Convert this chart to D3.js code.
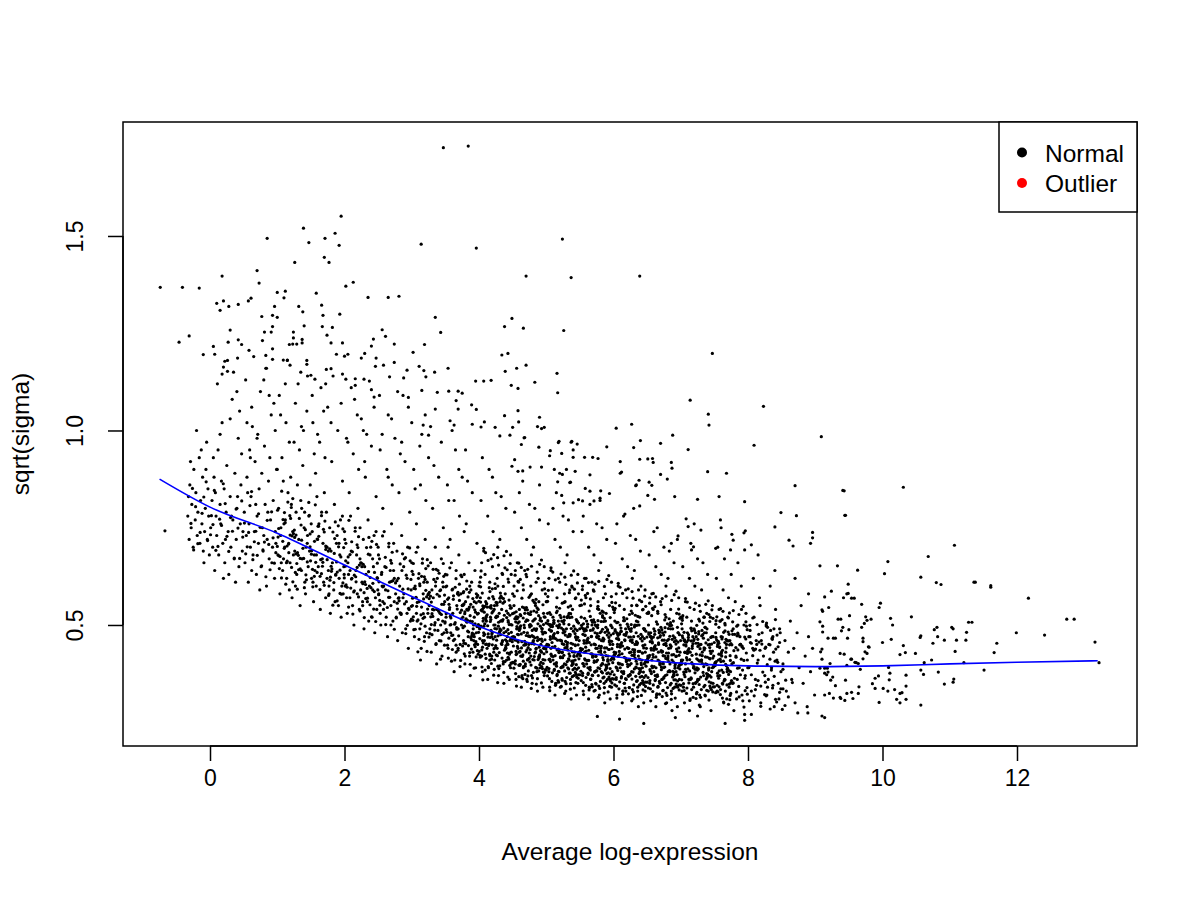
<!DOCTYPE html>
<html><head><meta charset="utf-8">
<script src="https://cdn.jsdelivr.net/npm/d3@7"></script>
<style>body{margin:0;background:#fff}svg text{font-family:"Liberation Sans",Arial,Helvetica,sans-serif;fill:#000}</style>
</head><body><svg id="c" width="1200" height="900"></svg>
<script>
const xTicks=[0,2,4,6,8,10,12];
const yTicks=[0.5,1.0,1.5];
const xTitle="Average log-expression", yTitle="sqrt(sigma)";
const legendLabels=["Normal","Outlier"], legendColors=["#000000","#FF0000"];
const trendX=[-0.75,0,1,2,3,4,4.5,5,6,7,8,9,10,11,12,13.2];
const trendY=[0.875,0.803,0.736,0.654,0.573,0.496,0.466,0.444,0.419,0.402,0.395,0.393,0.395,0.400,0.404,0.408];
const outliers=[];
const sparseUpper=[[3.47,1.727],[3.84,1.731],[1.95,1.551],[1.39,1.52],[0.85,1.494],[1.71,1.494],[1.86,1.507],[1.47,1.483],[1.92,1.476],[3.14,1.479],[3.96,1.469],[1.70,1.445],[1.77,1.432],[1.26,1.432],[0.70,1.411],[0.18,1.397],[0.73,1.379],[-0.74,1.368],[-0.41,1.368],[-0.16,1.366],[2.02,1.371],[2.13,1.381],[1.00,1.355],[1.12,1.358],[1.58,1.353],[1.10,1.341],[0.61,1.34],[0.57,1.333],[0.10,1.327],[0.20,1.333],[0.15,1.309],[0.28,1.319],[0.42,1.324],[2.35,1.342],[2.65,1.342],[2.81,1.345],[0.96,1.319],[1.32,1.319],[1.38,1.305],[1.66,1.322],[0.77,1.293],[0.93,1.296],[1.00,1.291],[1.68,1.296],[1.93,1.299],[3.35,1.291],[3.43,1.252],[4.49,1.288],[4.38,1.267],[-0.46,1.227],[-0.31,1.243],[1.40,1.269],[1.67,1.267],[1.82,1.265],[0.93,1.267],[0.30,1.258],[0.81,1.253],[0.91,1.253],[1.24,1.253],[1.74,1.245],[2.56,1.259],[2.61,1.242],[-0.10,1.195],[0.07,1.196],[0.05,1.216],[0.27,1.227],[0.42,1.233],[0.47,1.221],[0.78,1.231],[0.58,1.206],[0.93,1.21],[1.18,1.221],[1.23,1.222],[1.29,1.222],[1.37,1.225],[1.37,1.234],[1.24,1.238],[1.80,1.225],[1.97,1.225],[2.43,1.235],[2.40,1.217],[2.74,1.222],[3.19,1.221],[3.02,1.201],[1.88,1.196],[2.00,1.191],[2.05,1.196],[2.30,1.198],[2.25,1.186],[0.83,1.193],[0.93,1.183],[0.41,1.186],[0.22,1.178],[1.09,1.181],[1.15,1.181],[1.19,1.168],[1.44,1.18],[1.44,1.17],[2.47,1.186],[2.46,1.165],[2.58,1.168],[2.74,1.175],[2.93,1.155],[3.11,1.165],[3.18,1.154],[3.21,1.138],[3.34,1.15],[3.54,1.16],[4.34,1.194],[4.43,1.198],[4.56,1.16],[4.39,1.152],[3.95,1.127],[4.07,1.127],[4.18,1.129],[4.48,1.116],[4.58,1.108],[0.20,1.163],[0.26,1.152],[0.18,1.145],[0.84,1.16],[1.35,1.15],[1.50,1.142],[1.56,1.132],[1.73,1.157],[1.80,1.159],[1.97,1.145],[2.02,1.132],[2.16,1.133],[2.29,1.132],[2.37,1.127],[2.16,1.116],[2.40,1.105],[2.44,1.086],[2.67,1.138],[2.88,1.135],[2.79,1.10],[2.87,1.09],[2.95,1.085],[3.15,1.103],[3.38,1.098],[3.55,1.101],[3.69,1.101],[3.75,1.096],[3.66,1.077],[3.89,1.066],[3.96,1.054],[3.35,1.055],[3.69,1.055],[3.57,1.025],[3.63,1.014],[3.90,1.016],[4.03,1.009],[4.08,1.022],[4.24,1.008],[4.50,1.008],[4.38,1.038],[4.58,1.051],[4.59,1.022],[3.17,1.014],[3.25,0.988],[-0.67,0.742]];
const sparseMid=[[5.24,1.492],[4.70,1.397],[5.37,1.393],[6.39,1.397],[4.66,1.263],[5.26,1.257],[7.47,1.198],[4.70,1.168],[5.16,1.147],[4.83,1.124],[5.17,1.097],[7.14,1.078],[8.23,1.062],[4.90,1.034],[4.87,1.010],[4.93,1.005],[4.97,1.008],[6.04,1.006],[6.27,1.016],[7.41,1.042],[7.42,1.014],[6.88,0.988],[9.09,0.984],[4.31,0.986],[4.46,0.988],[4.68,0.982],[5.19,0.972],[5.38,0.972],[6.40,0.974],[6.70,0.967],[7.11,0.951],[8.09,0.962],[7.40,0.894],[7.68,0.890],[8.70,0.858],[6.30,0.956],[5.90,0.958],[6.10,0.920],[6.10,0.890],[6.39,0.926],[6.51,0.927],[6.58,0.928],[6.59,0.918],[6.86,0.918],[6.87,0.903],[6.70,0.887],[6.80,0.875],[6.38,0.872],[6.33,0.858],[6.57,0.859],[5.65,0.886],[5.18,0.969],[5.37,0.970],[5.46,0.965],[5.40,0.950],[5.23,0.941],[5.40,0.931],[5.57,0.931],[5.69,0.931],[5.77,0.928],[5.06,0.948],[5.05,0.935],[4.89,0.957],[5.17,0.868],[5.36,0.867],[5.43,0.895],[5.24,0.887],[5.58,0.851],[4.93,0.906],[4.76,0.906],[5.12,0.90],[4.65,0.896],[4.58,0.895],[4.53,0.925],[4.49,0.908],[4.67,0.981],[4.63,0.964],[5.20,0.890],[5.35,0.866],[5.65,0.844],[5.81,0.845],[5.94,0.838],[5.80,0.826],[5.71,0.819],[5.54,0.819],[5.23,0.833],[5.26,0.814],[5.40,0.814],[5.48,0.822],[6.12,0.893],[6.34,0.860],[6.53,0.867],[6.17,0.785],[6.39,0.806],[6.51,0.833],[6.61,0.823],[6.91,0.830],[7.25,0.823],[7.57,0.830],[7.95,0.817],[8.49,0.789],[8.72,0.781],[9.45,0.782],[8.40,0.752],[7.96,0.742],[7.94,0.737],[7.76,0.733],[7.59,0.770],[7.60,0.750],[8.96,0.738],[8.96,0.724],[8.93,0.710],[8.61,0.718],[8.67,0.703],[8.05,0.706],[7.95,0.693],[7.78,0.718],[7.08,0.773],[7.11,0.753],[7.30,0.744],[6.96,0.729],[6.86,0.710],[7.19,0.701],[7.16,0.693],[7.52,0.697],[7.74,0.693],[9.43,0.845]];
const rightTail=[[9.41,0.846],[10.31,0.854],[9.44,0.782],[11.07,0.705],[10.68,0.676],[10.08,0.663],[10.03,0.632],[9.63,0.641],[9.33,0.652],[9.07,0.652],[10.57,0.623],[10.80,0.609],[10.87,0.604],[11.36,0.61],[11.38,0.61],[11.61,0.601],[11.61,0.597],[12.17,0.569],[9.49,0.605],[9.24,0.587],[9.14,0.572],[9.42,0.57],[9.47,0.58],[9.49,0.581],[9.54,0.569],[9.58,0.569],[9.69,0.553],[9.97,0.556],[9.95,0.545],[9.20,0.545],[9.10,0.539],[9.11,0.535],[10.43,0.521],[10.12,0.517],[10.15,0.50],[9.75,0.521],[9.83,0.515],[9.77,0.512],[9.34,0.515],[9.38,0.515],[9.51,0.524],[9.73,0.504],[9.69,0.494],[9.39,0.485],[9.41,0.494],[9.50,0.488],[9.07,0.508],[9.11,0.497],[9.11,0.482],[9.27,0.466],[9.19,0.466],[9.30,0.466],[9.48,0.466],[9.71,0.466],[9.71,0.457],[9.80,0.443],[9.74,0.431],[9.77,0.427],[10.00,0.455],[10.13,0.463],[10.31,0.447],[10.56,0.468],[10.57,0.472],[10.82,0.47],[10.77,0.488],[10.81,0.494],[10.75,0.453],[10.92,0.461],[11.03,0.494],[11.05,0.49],[11.10,0.461],[11.24,0.461],[11.25,0.481],[11.28,0.507],[11.33,0.507],[11.70,0.453],[11.99,0.48],[11.66,0.429],[12.41,0.474],[12.74,0.515],[12.85,0.515],[13.16,0.456],[13.22,0.403],[11.08,0.432],[11.21,0.403],[11.51,0.384],[10.83,0.379],[11.06,0.361],[11.05,0.353],[10.92,0.348],[10.57,0.294],[10.73,0.41],[10.62,0.403],[10.57,0.384],[10.61,0.373],[10.49,0.427],[10.34,0.429],[10.26,0.424],[10.35,0.371],[10.35,0.343],[10.35,0.309],[10.26,0.324],[10.29,0.326],[10.21,0.309],[10.26,0.30],[10.18,0.334],[10.08,0.33],[10.01,0.337],[10.10,0.359],[10.11,0.376],[10.09,0.391],[9.94,0.369],[9.89,0.363],[9.85,0.349],[9.89,0.337],[9.95,0.301],[9.67,0.386],[9.64,0.401],[9.59,0.404],[9.53,0.412],[9.79,0.444],[9.65,0.341],[9.64,0.324],[9.54,0.327],[9.47,0.324],[9.56,0.311],[9.38,0.311],[9.44,0.306],[9.37,0.314],[9.27,0.312],[9.14,0.32],[9.21,0.324],[9.30,0.344],[9.45,0.358],[9.23,0.358],[9.26,0.366],[9.14,0.376],[9.17,0.372],[9.19,0.379],[9.07,0.389],[9.14,0.389],[9.18,0.389],[9.22,0.401],[9.37,0.427],[9.43,0.425],[9.54,0.412],[9.61,0.403],[9.47,0.396],[9.10,0.266],[9.14,0.262],[9.71,0.413],[9.10,0.438],[9.08,0.431],[9.10,0.412],[8.51,0.283],[8.74,0.274],[8.89,0.274],[7.66,0.247],[6.45,0.247],[6.09,0.258],[5.76,0.265],[6.92,0.262],[7.25,0.266],[8.05,0.27],[7.95,0.255]];
const midUpper=[[0.55,1.02],[0.62,1.06],[0.7,0.98],[0.88,1.09],[0.97,1.00],[1.05,1.04],[1.18,0.97],[1.27,1.07],[1.36,1.01],[1.52,1.09],[1.6,0.99],[1.69,1.05],[1.8,1.02],[1.95,1.07],[2.05,0.97],[2.19,1.04],[2.28,1.00],[2.44,1.06],[2.56,0.99],[2.7,1.03],[2.85,0.97],[3.0,1.02],[3.12,0.96],[3.28,1.01],[3.44,0.97],[0.3,1.03],[0.15,0.99],[0.4,1.10],[0.8,1.13],[1.12,1.12],[1.45,1.14],[1.72,1.12],[2.1,1.11],[2.52,1.09],[2.95,1.06],[3.2,1.04],[3.6,1.00],[3.8,0.95],[4.05,0.93],[0.6,0.93],[1.0,0.90],[1.55,0.94],[2.3,0.92],[2.65,0.88],[3.05,0.85],[3.55,0.82],[3.7,0.90],[4.2,0.88],[4.6,0.84],[4.9,0.86],[5.1,0.80],[5.3,0.90],[5.55,0.78],[5.8,0.82],[6.05,0.76],[6.3,0.80],[6.6,0.74],[6.95,0.72],[7.2,0.76],[7.55,0.70],[7.85,0.66],[8.15,0.68],[8.4,0.64],[8.7,0.62],[8.9,0.58]];
const cloudLeft=[[-0.33,0.78],[-0.31,0.72],[-0.3,0.86],[-0.28,0.75],[-0.27,0.81],[-0.25,0.70],[-0.24,0.90],[-0.22,0.77],[-0.21,0.84],[-0.19,0.73],[-0.18,0.79],[-0.16,0.93],[-0.15,0.71],[-0.14,0.82],[-0.12,0.76],[-0.11,0.88],[-0.1,0.69],[-0.08,0.74],[-0.07,0.80],[-0.05,0.97],[-0.04,0.72],[-0.03,0.85],[-0.02,0.78],[-0.01,0.68],[-0.29,0.92],[-0.2,1.00],[-0.13,0.95],[-0.06,0.90],[-0.32,0.83],[-0.09,0.66],
[0.01,0.75],[0.03,0.82],[0.04,0.70],[0.06,0.88],[0.07,0.64],[0.09,0.78],[0.1,0.73],[0.12,0.95],[0.13,0.68],[0.15,0.81],[0.16,0.76],[0.18,1.02],[0.19,0.71],[0.21,0.85],[0.22,0.66],[0.24,0.79],[0.25,0.91],[0.27,0.74],[0.28,0.63],[0.3,0.83],[0.31,0.70],[0.33,1.08],[0.34,0.77],[0.36,0.67],[0.37,0.89],[0.39,0.72],[0.4,0.80],[0.42,0.98],[0.43,0.65],[0.45,0.76],[0.46,0.86],[0.48,0.69],[0.49,0.74],[0.05,0.93],[0.2,0.62],[0.35,1.15],[0.44,1.05],[0.11,1.12],[0.26,1.18],[0.38,0.61],[0.08,0.84],[0.23,0.72],[0.41,0.83],[0.17,0.87],[0.32,0.78],[0.47,0.94],
[0.51,0.79],[0.52,0.66],[0.54,0.73],[0.55,0.88],[0.57,0.61],[0.58,0.76],[0.6,0.70],[0.61,0.83],[0.63,1.01],[0.64,0.68],[0.66,0.74],[0.67,0.92],[0.69,0.63],[0.7,0.78],[0.72,0.71],[0.73,0.85],[0.75,1.10],[0.76,0.65],[0.78,0.75],[0.79,0.69],[0.81,0.96],[0.82,0.81],[0.84,0.60],[0.85,0.72],[0.87,0.87],[0.88,0.67],[0.9,0.77],[0.91,1.04],[0.93,0.70],[0.94,0.82],[0.96,0.62],[0.97,0.74],[0.99,0.90],[0.53,1.13],[0.59,0.95],[0.65,1.19],[0.71,0.99],[0.77,0.89],[0.83,1.16],[0.89,0.93],[0.95,1.07],[0.56,0.84],[0.62,0.64],[0.68,0.81],[0.74,0.59],[0.8,0.73],[0.86,0.79],[0.92,0.66],[0.98,0.71]];
const cloudB=[[1.01,0.68],[1.02,0.80],[1.04,0.58],[1.05,0.73],[1.07,0.93],[1.08,0.64],[1.1,0.76],[1.11,0.70],[1.13,1.02],[1.14,0.62],[1.16,0.84],[1.17,0.71],[1.19,0.66],[1.2,0.88],[1.22,0.57],[1.23,0.74],[1.25,0.97],[1.26,0.69],[1.28,0.79],[1.29,0.63],[1.31,1.12],[1.32,0.72],[1.34,0.55],[1.35,0.82],[1.37,0.67],[1.38,0.91],[1.4,0.75],[1.41,0.61],[1.43,0.70],[1.44,1.05],[1.46,0.65],[1.47,0.78],[1.49,0.86],[1.03,1.09],[1.09,0.87],[1.15,1.18],[1.21,0.81],[1.27,0.60],[1.33,0.95],[1.39,1.00],[1.45,0.73],[1.06,0.66],[1.12,0.77],[1.18,0.59],[1.24,0.68],[1.3,0.86],[1.36,0.64],[1.42,0.58],[1.48,0.69],
[1.51,0.62],[1.52,0.74],[1.54,0.56],[1.55,0.68],[1.57,0.89],[1.58,0.60],[1.6,0.72],[1.61,0.65],[1.63,0.97],[1.64,0.54],[1.66,0.79],[1.67,0.67],[1.69,0.61],[1.7,0.84],[1.72,0.57],[1.73,0.70],[1.75,1.06],[1.76,0.64],[1.78,0.75],[1.79,0.53],[1.81,0.92],[1.82,0.66],[1.84,0.59],[1.85,0.81],[1.87,0.63],[1.88,0.71],[1.9,1.00],[1.91,0.55],[1.93,0.68],[1.94,0.77],[1.96,0.60],[1.97,0.87],[1.99,0.65],[1.53,1.02],[1.59,0.83],[1.65,1.11],[1.71,0.93],[1.77,0.58],[1.83,1.14],[1.89,0.73],[1.95,0.52],[1.56,0.64],[1.62,0.76],[1.68,0.71],[1.74,0.62],[1.8,0.69],[1.86,0.56],[1.92,0.62],[1.98,0.58],
[2.01,0.60],[2.02,0.71],[2.04,0.53],[2.05,0.66],[2.07,0.84],[2.08,0.57],[2.1,0.69],[2.11,0.62],[2.13,0.94],[2.14,0.50],[2.16,0.75],[2.17,0.64],[2.19,0.58],[2.2,0.80],[2.22,0.54],[2.23,0.67],[2.25,1.03],[2.26,0.61],[2.28,0.72],[2.29,0.49],[2.31,0.88],[2.32,0.63],[2.34,0.56],[2.35,0.77],[2.37,0.60],[2.38,0.68],[2.4,0.96],[2.41,0.52],[2.43,0.65],[2.44,0.73],[2.46,0.57],[2.47,0.83],[2.49,0.62],[2.03,0.98],[2.09,0.78],[2.15,1.08],[2.21,0.90],[2.27,0.55],[2.33,0.99],[2.39,0.70],[2.45,0.48],[2.06,0.63],[2.12,0.55],[2.18,0.68],[2.24,0.59],[2.3,0.65],[2.36,0.51],[2.42,0.59],[2.48,0.54],[2.0,0.74],
[2.51,0.58],[2.52,0.67],[2.54,0.50],[2.55,0.63],[2.57,0.80],[2.58,0.54],[2.6,0.65],[2.61,0.59],[2.63,0.90],[2.64,0.47],[2.66,0.71],[2.67,0.61],[2.69,0.55],[2.7,0.76],[2.72,0.51],[2.73,0.64],[2.75,0.98],[2.76,0.58],[2.78,0.69],[2.79,0.46],[2.81,0.84],[2.82,0.60],[2.84,0.53],[2.85,0.73],[2.87,0.57],[2.88,0.65],[2.9,0.92],[2.91,0.49],[2.93,0.62],[2.94,0.70],[2.96,0.54],[2.97,0.79],[2.99,0.59],[2.53,0.95],[2.59,0.74],[2.65,1.04],[2.71,0.86],[2.77,0.52],[2.83,0.94],[2.89,0.67],[2.95,0.44],[2.56,0.60],[2.62,0.52],[2.68,0.64],[2.74,0.56],[2.8,0.62],[2.86,0.48],[2.92,0.56],[2.98,0.51],[2.5,0.70],[2.57,0.56],[2.69,0.50],[2.81,0.57],[2.93,0.53]];
const cloudC=[[3.01,0.55],[3.02,0.63],[3.04,0.47],[3.05,0.60],[3.07,0.76],[3.08,0.51],[3.1,0.62],[3.11,0.56],[3.13,0.86],[3.14,0.44],[3.16,0.67],[3.17,0.58],[3.19,0.52],[3.2,0.72],[3.22,0.48],[3.23,0.61],[3.25,0.93],[3.26,0.55],[3.28,0.66],[3.29,0.43],[3.31,0.80],[3.32,0.57],[3.34,0.50],[3.35,0.70],[3.37,0.54],[3.38,0.62],[3.4,0.88],[3.41,0.46],[3.43,0.59],[3.44,0.67],[3.46,0.51],[3.47,0.75],[3.49,0.56],[3.03,0.90],[3.09,0.70],[3.15,0.99],[3.21,0.82],[3.27,0.49],[3.33,0.91],[3.39,0.64],[3.45,0.42],[3.06,0.57],[3.12,0.49],[3.18,0.61],[3.24,0.53],[3.3,0.59],[3.36,0.45],[3.42,0.53],[3.48,0.48],[3.0,0.66],[3.07,0.53],[3.19,0.47],[3.31,0.54],[3.43,0.50],[3.13,0.41],[3.37,0.40],[3.25,0.58],[3.46,0.61],
[3.51,0.52],[3.52,0.60],[3.54,0.44],[3.55,0.57],[3.57,0.72],[3.58,0.48],[3.6,0.59],[3.61,0.53],[3.63,0.82],[3.64,0.41],[3.66,0.64],[3.67,0.55],[3.69,0.49],[3.7,0.68],[3.72,0.45],[3.73,0.58],[3.75,0.88],[3.76,0.52],[3.78,0.63],[3.79,0.40],[3.81,0.76],[3.82,0.54],[3.84,0.47],[3.85,0.66],[3.87,0.51],[3.88,0.59],[3.9,0.84],[3.91,0.43],[3.93,0.56],[3.94,0.64],[3.96,0.48],[3.97,0.71],[3.99,0.53],[3.53,0.86],[3.59,0.66],[3.65,0.95],[3.71,0.78],[3.77,0.46],[3.83,0.87],[3.89,0.61],[3.95,0.39],[3.56,0.54],[3.62,0.46],[3.68,0.58],[3.74,0.50],[3.8,0.56],[3.86,0.42],[3.92,0.50],[3.98,0.45],[3.5,0.63],[3.57,0.50],[3.69,0.44],[3.81,0.51],[3.93,0.47],[3.63,0.38],[3.87,0.37],[3.75,0.55],[3.96,0.58],[3.54,0.70],[3.78,0.74],[3.66,0.43],
[4.01,0.49],[4.02,0.57],[4.04,0.42],[4.05,0.54],[4.07,0.69],[4.08,0.46],[4.1,0.56],[4.11,0.51],[4.13,0.78],[4.14,0.39],[4.16,0.61],[4.17,0.52],[4.19,0.47],[4.2,0.65],[4.22,0.43],[4.23,0.55],[4.25,0.84],[4.26,0.49],[4.28,0.60],[4.29,0.37],[4.31,0.72],[4.32,0.51],[4.34,0.45],[4.35,0.63],[4.37,0.48],[4.38,0.56],[4.4,0.80],[4.41,0.41],[4.43,0.53],[4.44,0.61],[4.46,0.46],[4.47,0.68],[4.49,0.50],[4.03,0.82],[4.09,0.63],[4.15,0.90],[4.21,0.74],[4.27,0.44],[4.33,0.83],[4.39,0.58],[4.45,0.36],[4.06,0.51],[4.12,0.44],[4.18,0.55],[4.24,0.47],[4.3,0.53],[4.36,0.40],[4.42,0.47],[4.48,0.43],[4.0,0.60],[4.07,0.48],[4.19,0.42],[4.31,0.49],[4.43,0.45],[4.13,0.36],[4.37,0.35],[4.25,0.52],[4.46,0.55],[4.04,0.66],[4.28,0.70],[4.16,0.41],[4.22,0.50],[4.34,0.57],[4.4,0.44],[4.1,0.45],[4.47,0.39],[4.27,0.62],[4.05,0.38],[4.35,0.46],[4.18,0.67],
[4.51,0.47],[4.52,0.55],[4.54,0.40],[4.55,0.52],[4.57,0.66],[4.58,0.44],[4.6,0.54],[4.61,0.49],[4.63,0.75],[4.64,0.37],[4.66,0.59],[4.67,0.50],[4.69,0.45],[4.7,0.63],[4.72,0.41],[4.73,0.53],[4.75,0.81],[4.76,0.47],[4.78,0.58],[4.79,0.35],[4.81,0.70],[4.82,0.49],[4.84,0.43],[4.85,0.61],[4.87,0.46],[4.88,0.54],[4.9,0.77],[4.91,0.39],[4.93,0.51],[4.94,0.59],[4.96,0.44],[4.97,0.65],[4.99,0.48],[4.53,0.79],[4.59,0.61],[4.65,0.87],[4.71,0.72],[4.77,0.42],[4.83,0.80],[4.89,0.56],[4.95,0.34],[4.56,0.49],[4.62,0.42],[4.68,0.53],[4.74,0.45],[4.8,0.51],[4.86,0.38],[4.92,0.45],[4.98,0.41],[4.5,0.58],[4.57,0.46],[4.69,0.40],[4.81,0.47],[4.93,0.43],[4.63,0.34],[4.87,0.33],[4.75,0.50],[4.96,0.53],[4.54,0.64],[4.78,0.68],[4.66,0.39],[4.72,0.48],[4.84,0.55],[4.9,0.42],[4.6,0.43],[4.97,0.37],[4.77,0.60],[4.55,0.36],[4.85,0.44],[4.68,0.64],[4.58,0.52],[4.82,0.41],[4.94,0.49],[4.71,0.36],[4.88,0.62]];
const cloudD=[[5.01,0.45],[5.02,0.53],[5.04,0.38],[5.05,0.50],[5.07,0.64],[5.08,0.42],[5.1,0.52],[5.11,0.47],[5.13,0.72],[5.14,0.35],[5.16,0.57],[5.17,0.48],[5.19,0.43],[5.2,0.61],[5.22,0.39],[5.23,0.51],[5.25,0.78],[5.26,0.45],[5.28,0.56],[5.29,0.33],[5.31,0.68],[5.32,0.47],[5.34,0.41],[5.35,0.59],[5.37,0.44],[5.38,0.52],[5.4,0.74],[5.41,0.37],[5.43,0.49],[5.44,0.57],[5.46,0.42],[5.47,0.63],[5.49,0.46],[5.03,0.76],[5.09,0.59],[5.15,0.84],[5.21,0.70],[5.27,0.40],[5.33,0.77],[5.39,0.54],[5.45,0.32],[5.06,0.47],[5.12,0.40],[5.18,0.51],[5.24,0.43],[5.3,0.49],[5.36,0.36],[5.42,0.43],[5.48,0.39],[5.0,0.56],[5.07,0.44],[5.19,0.38],[5.31,0.45],[5.43,0.41],[5.13,0.32],[5.37,0.31],[5.25,0.48],[5.46,0.51],[5.04,0.62],[5.28,0.66],[5.16,0.37],[5.22,0.46],[5.34,0.53],[5.4,0.40],[5.1,0.41],[5.47,0.35],[5.27,0.58],[5.05,0.34],[5.35,0.42],[5.18,0.62],[5.08,0.50],[5.32,0.39],[5.44,0.47],[5.21,0.34],[5.38,0.60],
[5.51,0.44],[5.52,0.52],[5.54,0.37],[5.55,0.49],[5.57,0.62],[5.58,0.41],[5.6,0.51],[5.61,0.46],[5.63,0.70],[5.64,0.34],[5.66,0.55],[5.67,0.47],[5.69,0.42],[5.7,0.59],[5.72,0.38],[5.73,0.50],[5.75,0.76],[5.76,0.44],[5.78,0.54],[5.79,0.32],[5.81,0.66],[5.82,0.46],[5.84,0.40],[5.85,0.57],[5.87,0.43],[5.88,0.51],[5.9,0.72],[5.91,0.36],[5.93,0.48],[5.94,0.55],[5.96,0.41],[5.97,0.61],[5.99,0.45],[5.53,0.74],[5.59,0.57],[5.65,0.81],[5.71,0.68],[5.77,0.39],[5.83,0.75],[5.89,0.53],[5.95,0.31],[5.56,0.46],[5.62,0.39],[5.68,0.50],[5.74,0.42],[5.8,0.48],[5.86,0.35],[5.92,0.42],[5.98,0.38],[5.5,0.55],[5.57,0.43],[5.69,0.37],[5.81,0.44],[5.93,0.40],[5.63,0.31],[5.87,0.30],[5.75,0.47],[5.96,0.50],[5.54,0.60],[5.78,0.64],[5.66,0.36],[5.72,0.45],[5.84,0.52],[5.9,0.39],[5.6,0.40],[5.97,0.34],[5.77,0.56],[5.55,0.33],[5.85,0.41],[5.68,0.61],[5.58,0.49],[5.82,0.38],[5.94,0.46],[5.71,0.33],[5.88,0.58],
[6.01,0.43],[6.02,0.51],[6.04,0.36],[6.05,0.48],[6.07,0.60],[6.08,0.40],[6.1,0.50],[6.11,0.45],[6.13,0.67],[6.14,0.33],[6.16,0.54],[6.17,0.46],[6.19,0.41],[6.2,0.57],[6.22,0.37],[6.23,0.49],[6.25,0.73],[6.26,0.43],[6.28,0.53],[6.29,0.31],[6.31,0.64],[6.32,0.45],[6.34,0.39],[6.35,0.55],[6.37,0.42],[6.38,0.50],[6.4,0.69],[6.41,0.35],[6.43,0.47],[6.44,0.54],[6.46,0.40],[6.47,0.59],[6.49,0.44],[6.03,0.71],[6.09,0.55],[6.15,0.78],[6.21,0.65],[6.27,0.38],[6.33,0.72],[6.39,0.52],[6.45,0.30],[6.06,0.45],[6.12,0.38],[6.18,0.49],[6.24,0.41],[6.3,0.47],[6.36,0.34],[6.42,0.41],[6.48,0.37],[6.0,0.54],[6.07,0.42],[6.19,0.36],[6.31,0.43],[6.43,0.39],[6.13,0.30],[6.37,0.29],[6.25,0.46],[6.46,0.49],[6.04,0.58],[6.28,0.62],[6.16,0.35],[6.22,0.44],[6.34,0.51],[6.4,0.38],[6.1,0.39],[6.47,0.33],[6.27,0.55],[6.05,0.32],[6.35,0.40],[6.18,0.59],
[6.51,0.42],[6.52,0.50],[6.54,0.35],[6.55,0.47],[6.57,0.58],[6.58,0.39],[6.6,0.49],[6.61,0.44],[6.63,0.65],[6.64,0.32],[6.66,0.53],[6.67,0.45],[6.69,0.40],[6.7,0.56],[6.72,0.36],[6.73,0.48],[6.75,0.70],[6.76,0.42],[6.78,0.52],[6.79,0.30],[6.81,0.62],[6.82,0.44],[6.84,0.38],[6.85,0.54],[6.87,0.41],[6.88,0.49],[6.9,0.66],[6.91,0.34],[6.93,0.46],[6.94,0.53],[6.96,0.39],[6.97,0.57],[6.99,0.43],[6.53,0.68],[6.59,0.54],[6.65,0.75],[6.71,0.63],[6.77,0.37],[6.83,0.69],[6.89,0.51],[6.95,0.29],[6.56,0.44],[6.62,0.37],[6.68,0.48],[6.74,0.40],[6.8,0.46],[6.86,0.33],[6.92,0.40],[6.98,0.36],[6.5,0.53],[6.57,0.41],[6.69,0.35],[6.81,0.42],[6.93,0.38],[6.63,0.29],[6.87,0.28],[6.75,0.45],[6.96,0.48],[6.54,0.57],[6.78,0.60],[6.66,0.34],[6.72,0.43],[6.84,0.50],[6.9,0.37],[6.6,0.38]];
const cloudE=[[7.01,0.41],[7.02,0.49],[7.04,0.34],[7.05,0.46],[7.07,0.56],[7.08,0.38],[7.1,0.48],[7.11,0.43],[7.13,0.62],[7.14,0.31],[7.16,0.51],[7.17,0.44],[7.19,0.39],[7.2,0.54],[7.22,0.35],[7.23,0.47],[7.25,0.67],[7.26,0.41],[7.28,0.51],[7.29,0.29],[7.31,0.59],[7.32,0.43],[7.34,0.37],[7.35,0.52],[7.37,0.40],[7.38,0.48],[7.4,0.63],[7.41,0.33],[7.43,0.45],[7.44,0.52],[7.46,0.38],[7.47,0.55],[7.49,0.42],[7.03,0.65],[7.09,0.52],[7.15,0.71],[7.21,0.60],[7.27,0.36],[7.33,0.66],[7.39,0.49],[7.45,0.28],[7.06,0.43],[7.12,0.36],[7.18,0.47],[7.24,0.39],[7.3,0.45],[7.36,0.32],[7.42,0.39],[7.48,0.35],[7.0,0.52],[7.07,0.40],[7.19,0.34],[7.31,0.41],[7.43,0.37],[7.13,0.28],
[7.51,0.40],[7.52,0.48],[7.54,0.33],[7.55,0.45],[7.57,0.54],[7.58,0.37],[7.6,0.47],[7.61,0.42],[7.63,0.59],[7.64,0.30],[7.66,0.50],[7.67,0.43],[7.69,0.38],[7.7,0.52],[7.72,0.34],[7.73,0.46],[7.75,0.63],[7.76,0.40],[7.78,0.49],[7.79,0.28],[7.81,0.56],[7.82,0.42],[7.84,0.36],[7.85,0.50],[7.87,0.39],[7.88,0.47],[7.9,0.60],[7.91,0.32],[7.93,0.44],[7.94,0.50],[7.96,0.37],[7.97,0.53],[7.99,0.41],[7.53,0.62],[7.59,0.51],[7.65,0.67],[7.71,0.57],[7.77,0.35],[7.83,0.31],[7.89,0.45],[7.95,0.27],[7.56,0.41],[7.62,0.35],[7.68,0.45],[7.74,0.38],
[8.01,0.39],[8.03,0.47],[8.05,0.33],[8.07,0.44],[8.09,0.52],[8.11,0.36],[8.13,0.45],[8.15,0.41],[8.17,0.57],[8.19,0.30],[8.21,0.48],[8.23,0.42],[8.25,0.37],[8.27,0.50],[8.29,0.34],[8.31,0.45],[8.33,0.60],[8.35,0.39],[8.37,0.47],[8.39,0.29],[8.41,0.54],[8.43,0.41],[8.45,0.35],[8.47,0.49],[8.49,0.38],[8.08,0.62],[8.18,0.55],[8.28,0.32],[8.38,0.43],[8.46,0.31],
[8.52,0.40],[8.55,0.46],[8.57,0.33],[8.6,0.43],[8.63,0.51],[8.65,0.36],[8.68,0.44],[8.7,0.30],[8.73,0.48],[8.76,0.39],[8.79,0.55],[8.82,0.35],[8.85,0.42],[8.88,0.29],[8.9,0.47],[8.93,0.38],[8.96,0.44],[8.99,0.32]];
const coreDense=[[3.017,0.512],[3.262,0.584],[3.108,0.463],[3.441,0.527],[3.355,0.611],[3.073,0.548],[3.198,0.497],[3.487,0.448],[3.329,0.539],[3.146,0.625],[3.412,0.574],[3.033,0.594],[3.227,0.432],[3.301,0.475],[3.468,0.598],[3.091,0.431],[3.176,0.567],[3.389,0.486],[3.244,0.652],[3.052,0.489],[3.283,0.521],[3.428,0.412],[3.137,0.526],[3.362,0.452],[3.209,0.589],[3.494,0.505],[3.121,0.601],[3.318,0.643],[3.401,0.535],[3.064,0.571],[3.187,0.458],[3.347,0.506],[3.256,0.469],[3.452,0.476],[3.024,0.658],[3.168,0.517],[3.291,0.559],[3.377,0.579],[3.236,0.541],[3.476,0.553],
[3.512,0.488],[3.763,0.551],[3.604,0.437],[3.941,0.503],[3.857,0.584],[3.573,0.522],[3.698,0.472],[3.987,0.425],[3.829,0.512],[3.646,0.597],[3.912,0.546],[3.533,0.566],[3.727,0.409],[3.801,0.452],[3.968,0.571],[3.591,0.407],[3.676,0.541],[3.889,0.462],[3.744,0.624],[3.552,0.466],[3.783,0.497],[3.928,0.389],[3.637,0.502],[3.862,0.429],[3.709,0.563],[3.994,0.481],[3.621,0.575],[3.818,0.613],[3.901,0.509],[3.564,0.545],[3.687,0.435],[3.847,0.482],[3.756,0.446],[3.952,0.452],[3.524,0.629],[3.668,0.493],[3.791,0.534],[3.877,0.553],[3.736,0.516],[3.976,0.528],[3.544,0.415],[3.611,0.474],[3.718,0.393],[3.836,0.538],[3.921,0.476],[3.659,0.448],[3.772,0.586],[3.958,0.418],[3.583,0.501],[3.869,0.399],
[4.012,0.465],[4.263,0.523],[4.104,0.414],[4.441,0.478],[4.357,0.556],[4.073,0.497],[4.198,0.449],[4.487,0.402],[4.329,0.487],[4.146,0.569],[4.412,0.519],[4.033,0.538],[4.227,0.386],[4.301,0.429],[4.468,0.543],[4.091,0.384],[4.176,0.514],[4.389,0.438],[4.244,0.594],[4.052,0.443],[4.283,0.472],[4.428,0.366],[4.137,0.477],[4.362,0.406],[4.209,0.535],[4.494,0.457],[4.121,0.546],[4.318,0.582],[4.401,0.483],[4.064,0.517],[4.187,0.412],[4.347,0.457],[4.256,0.423],[4.452,0.428],[4.024,0.598],[4.168,0.468],[4.291,0.507],[4.377,0.525],[4.236,0.491],[4.476,0.501],[4.044,0.392],[4.111,0.451],[4.218,0.371],[4.336,0.511],[4.421,0.452],[4.159,0.425],[4.272,0.557],[4.458,0.396],[4.083,0.476],[4.369,0.378],[4.017,0.421],[4.129,0.498],[4.248,0.447],[4.309,0.395],[4.394,0.462],[4.481,0.481],[4.193,0.531],[4.057,0.359],[4.277,0.352],[4.433,0.511],
[4.512,0.446],[4.763,0.501],[4.604,0.396],[4.941,0.458],[4.857,0.533],[4.573,0.476],[4.698,0.431],[4.987,0.385],[4.829,0.467],[4.646,0.546],[4.912,0.497],[4.533,0.516],[4.727,0.369],[4.801,0.411],[4.968,0.521],[4.591,0.367],[4.676,0.493],[4.889,0.419],[4.744,0.571],[4.552,0.424],[4.783,0.452],[4.928,0.351],[4.637,0.457],[4.862,0.389],[4.709,0.513],[4.994,0.438],[4.621,0.524],[4.818,0.559],[4.901,0.463],[4.564,0.496],[4.687,0.394],[4.847,0.438],[4.756,0.405],[4.952,0.411],[4.524,0.574],[4.668,0.448],[4.791,0.486],[4.877,0.503],[4.736,0.471],[4.976,0.481],[4.544,0.375],[4.611,0.432],[4.718,0.355],[4.836,0.489],[4.921,0.433],[4.659,0.407],[4.772,0.534],[4.958,0.379],[4.583,0.456],[4.869,0.362],[4.517,0.403],[4.629,0.477],[4.748,0.428],[4.809,0.378],[4.894,0.443],[4.981,0.462],[4.693,0.509],[4.557,0.343],[4.777,0.337],[4.933,0.491],[4.541,0.461],[4.652,0.362],[4.731,0.442],[4.822,0.419],[4.905,0.398],[4.598,0.508],[4.703,0.473],[4.853,0.348],[4.967,0.426],[4.613,0.399],
[5.006,0.431],[5.254,0.488],[5.118,0.383],[5.433,0.447],[5.349,0.519],[5.061,0.463],[5.211,0.418],[5.479,0.372],[5.317,0.455],[5.152,0.532],[5.404,0.484],[5.027,0.503],[5.238,0.358],[5.293,0.398],[5.461,0.508],[5.083,0.355],[5.169,0.481],[5.381,0.407],[5.266,0.558],[5.041,0.411],[5.277,0.441],[5.417,0.338],[5.129,0.445],[5.356,0.376],[5.197,0.501],[5.491,0.426],[5.113,0.512],[5.327,0.546],[5.394,0.451],[5.072,0.484],[5.181,0.381],[5.339,0.426],[5.249,0.392],[5.447,0.398],[5.019,0.561],[5.161,0.436],[5.284,0.474],[5.371,0.491],[5.228,0.459],[5.469,0.468],[5.048,0.362],[5.103,0.419],[5.224,0.342],[5.343,0.476],[5.413,0.421],[5.153,0.394],[5.266,0.521],[5.452,0.366],[5.091,0.443],[5.362,0.349],[5.012,0.391],[5.137,0.465],[5.243,0.416],[5.303,0.365],[5.388,0.431],[5.474,0.449],[5.189,0.497],[5.052,0.331],[5.273,0.324],[5.428,0.478],[5.036,0.448],[5.144,0.349],[5.234,0.429],[5.312,0.406],[5.398,0.385],[5.093,0.496],[5.207,0.461],[5.358,0.335],[5.486,0.413],[5.121,0.386],[5.175,0.357],[5.262,0.503],[5.333,0.387],[5.441,0.352],[5.067,0.527],
[5.509,0.421],[5.757,0.478],[5.621,0.373],[5.936,0.437],[5.852,0.509],[5.564,0.453],[5.714,0.408],[5.982,0.362],[5.82,0.445],[5.655,0.522],[5.907,0.474],[5.53,0.493],[5.741,0.348],[5.796,0.388],[5.964,0.498],[5.586,0.345],[5.672,0.471],[5.884,0.397],[5.769,0.548],[5.544,0.401],[5.78,0.431],[5.92,0.328],[5.632,0.435],[5.859,0.366],[5.7,0.491],[5.994,0.416],[5.616,0.502],[5.83,0.536],[5.897,0.441],[5.575,0.474],[5.684,0.371],[5.842,0.416],[5.752,0.382],[5.95,0.388],[5.522,0.551],[5.664,0.426],[5.787,0.464],[5.874,0.481],[5.731,0.449],[5.972,0.458],[5.551,0.352],[5.606,0.409],[5.727,0.332],[5.846,0.466],[5.916,0.411],[5.656,0.384],[5.769,0.511],[5.955,0.356],[5.594,0.433],[5.865,0.339],[5.515,0.381],[5.64,0.455],[5.746,0.406],[5.806,0.355],[5.891,0.421],[5.977,0.439],[5.692,0.487],[5.555,0.321],[5.776,0.314],[5.931,0.468],[5.539,0.438],[5.647,0.339],[5.737,0.419],[5.815,0.396],[5.901,0.375],[5.596,0.486],[5.71,0.451],[5.861,0.325],[5.989,0.403],[5.624,0.376],[5.678,0.347],[5.765,0.493],[5.836,0.377],[5.944,0.342],[5.57,0.517],
[6.004,0.412],[6.252,0.469],[6.116,0.364],[6.431,0.428],[6.347,0.499],[6.059,0.444],[6.209,0.399],[6.477,0.353],[6.315,0.436],[6.15,0.511],[6.402,0.465],[6.025,0.484],[6.236,0.339],[6.291,0.379],[6.459,0.488],[6.081,0.336],[6.167,0.462],[6.379,0.388],[6.264,0.536],[6.039,0.392],[6.275,0.422],[6.415,0.319],[6.127,0.426],[6.354,0.357],[6.195,0.481],[6.489,0.407],[6.111,0.492],[6.325,0.525],[6.392,0.432],[6.07,0.465],[6.179,0.362],[6.337,0.407],[6.247,0.373],[6.445,0.379],[6.017,0.539],[6.159,0.417],[6.282,0.455],[6.369,0.471],[6.226,0.44],[6.467,0.449],[6.046,0.343],[6.101,0.4],[6.222,0.323],[6.341,0.457],[6.411,0.402],[6.151,0.375],[6.264,0.501],[6.45,0.347],[6.089,0.424],[6.36,0.33],[6.01,0.372],[6.135,0.446],[6.241,0.397],[6.301,0.346],[6.386,0.412],[6.472,0.43],[6.187,0.477],[6.05,0.312],[6.271,0.305],[6.426,0.459],[6.034,0.429],[6.142,0.33],[6.232,0.41],[6.31,0.387],[6.396,0.366],[6.091,0.477],[6.205,0.442],[6.356,0.316],[6.484,0.394],[6.119,0.367],[6.173,0.338],[6.26,0.484],[6.331,0.368],[6.439,0.333],[6.065,0.507],
[6.507,0.405],[6.755,0.461],[6.619,0.357],[6.934,0.42],[6.85,0.49],[6.562,0.436],[6.712,0.392],[6.98,0.346],[6.818,0.428],[6.653,0.502],[6.905,0.457],[6.528,0.476],[6.739,0.332],[6.794,0.372],[6.962,0.48],[6.584,0.329],[6.67,0.454],[6.882,0.381],[6.767,0.527],[6.542,0.385],[6.778,0.414],[6.918,0.312],[6.63,0.418],[6.857,0.35],[6.698,0.473],[6.992,0.4],[6.614,0.484],[6.828,0.516],[6.895,0.424],[6.573,0.457],[6.682,0.355],[6.84,0.4],[6.75,0.366],[6.948,0.372],[6.52,0.53],[6.662,0.41],[6.785,0.447],[6.872,0.463],[6.729,0.432],[6.97,0.441],[6.549,0.336],[6.604,0.393],[6.725,0.316],[6.844,0.449],[6.914,0.395],[6.654,0.368],[6.767,0.493],[6.953,0.34],[6.592,0.417],[6.863,0.323],[6.513,0.365],[6.638,0.438],[6.744,0.39],[6.804,0.339],[6.889,0.405],[6.975,0.422],[6.69,0.469],[6.553,0.305],[6.774,0.298],[6.929,0.451],[6.537,0.422],[6.645,0.323],[6.735,0.403],[6.813,0.38],[6.899,0.359],[6.594,0.469],[6.708,0.434],[6.859,0.309],[6.987,0.387],[6.622,0.36],
[7.009,0.399],[7.257,0.453],[7.121,0.351],[7.436,0.413],[7.352,0.48],[7.064,0.429],[7.214,0.386],[7.482,0.341],[7.32,0.421],[7.155,0.491],[7.407,0.449],[7.03,0.467],[7.241,0.327],[7.296,0.366],[7.464,0.47],[7.086,0.324],[7.172,0.446],[7.384,0.375],[7.269,0.515],[7.044,0.379],[7.28,0.407],[7.42,0.307],[7.132,0.411],[7.359,0.345],[7.2,0.464],[7.494,0.394],[7.116,0.475],[7.33,0.505],[7.397,0.417],[7.075,0.449],[7.184,0.349],[7.342,0.393],[7.252,0.36],[7.45,0.366],[7.022,0.518],[7.164,0.403],[7.287,0.439],[7.374,0.454],[7.231,0.425],[7.472,0.433],[7.051,0.331],[7.106,0.387],[7.227,0.311],[7.346,0.441],[7.416,0.388],[7.156,0.362],[7.269,0.483],[7.455,0.334],[7.094,0.41],[7.365,0.318],[7.015,0.359],[7.14,0.43],[7.246,0.384],[7.306,0.334],[7.391,0.398],[7.477,0.415],[7.192,0.46],[7.055,0.3],[7.276,0.294],[7.431,0.442],
[7.512,0.396],[7.76,0.449],[7.624,0.348],[7.939,0.409],[7.855,0.474],[7.567,0.425],[7.717,0.383],[7.985,0.339],[7.823,0.417],[7.658,0.485],[7.91,0.444],[7.533,0.462],[7.744,0.324],[7.799,0.363],[7.967,0.464],[7.589,0.321],[7.675,0.441],[7.887,0.372],[7.772,0.508],[7.547,0.376],[7.783,0.403],[7.923,0.305],[7.635,0.407],[7.862,0.342],[7.703,0.459],[7.997,0.39],[7.619,0.469],[7.833,0.497],[7.9,0.412],[7.578,0.444],[7.687,0.346],[7.845,0.389],[7.755,0.357],[7.953,0.363],[7.525,0.511],[7.667,0.399],[7.79,0.434],[7.877,0.449],[7.734,0.421],[7.975,0.428],[7.554,0.328],[7.609,0.384],[7.73,0.308],[7.849,0.436],[7.919,0.384],[7.659,0.359],[7.772,0.476],[7.958,0.331],[7.597,0.406],[7.868,0.315],
[8.015,0.392],[8.263,0.443],[8.127,0.345],[8.442,0.404],[8.358,0.466],[8.07,0.421],[8.22,0.379],[8.488,0.336],[8.326,0.412],[8.161,0.476],[8.413,0.438],[8.036,0.455],[8.247,0.321],[8.302,0.36],[8.47,0.455],[8.092,0.318],[8.178,0.435],[8.39,0.368],[8.275,0.497],[8.05,0.372],[8.286,0.398],[8.426,0.302],[8.138,0.402],[8.365,0.338],[8.206,0.451],[8.52,0.386],[8.122,0.46],[8.336,0.486],[8.403,0.407],[8.081,0.438],[8.19,0.343],[8.348,0.384],[8.258,0.353],[8.56,0.358],[8.028,0.499]];
const curveBand=[[-0.283,0.761],[-0.214,0.804],[-0.147,0.738],[-0.092,0.829],[-0.036,0.717],[0.021,0.781],[0.064,0.846],[0.118,0.702],[0.171,0.756],[0.226,0.812],[0.279,0.689],[0.334,0.741],[0.388,0.798],[0.441,0.671],[0.487,0.726],[-0.261,0.851],[-0.181,0.709],[-0.118,0.787],[-0.057,0.868],[0.008,0.732],[0.087,0.692],[0.143,0.772],[0.197,0.863],[0.252,0.728],[0.306,0.776],[0.361,0.672],[0.416,0.749],[0.472,0.819],[-0.243,0.693],[0.044,0.758],
[0.512,0.762],[0.553,0.701],[0.594,0.807],[0.637,0.668],[0.681,0.741],[0.722,0.786],[0.768,0.652],[0.809,0.713],[0.851,0.769],[0.893,0.642],[0.938,0.724],[0.979,0.686],[1.021,0.748],[1.063,0.621],[1.104,0.697],[1.148,0.664],[1.191,0.731],[1.232,0.611],[1.277,0.683],[1.318,0.642],[1.362,0.718],[1.403,0.596],[1.447,0.662],[1.488,0.701],[0.531,0.683],[0.574,0.738],[0.618,0.843],[0.659,0.714],[0.703,0.679],[0.746,0.751],[0.787,0.693],[0.831,0.624],[0.874,0.707],[0.916,0.791],[0.957,0.659],[1.001,0.702],[1.042,0.676],[1.086,0.771],[1.127,0.605],[1.169,0.708],[1.213,0.648],[1.254,0.744],[1.298,0.592],[1.341,0.671],[1.426,0.629],
[1.508,0.682],[1.551,0.625],[1.593,0.721],[1.636,0.591],[1.678,0.661],[1.721,0.703],[1.763,0.576],[1.806,0.638],[1.848,0.684],[1.891,0.562],[1.933,0.641],[1.976,0.608],[2.018,0.665],[2.061,0.546],[2.103,0.618],[2.146,0.588],[2.188,0.648],[2.231,0.536],[2.273,0.606],[2.316,0.568],[2.358,0.637],[2.401,0.521],[2.443,0.586],[2.486,0.622],[2.528,0.551],[2.571,0.598],[2.613,0.501],[2.656,0.571],[2.698,0.612],[2.741,0.489],[2.783,0.556],[2.826,0.531],[2.868,0.592],[2.911,0.478],[2.953,0.543],[2.996,0.515],[1.529,0.598],[1.572,0.661],[1.614,0.754],[1.657,0.632],[1.699,0.602],[1.742,0.668],[1.784,0.615],[1.827,0.551],[1.869,0.628],[1.912,0.701],[1.954,0.579],[1.997,0.621],[2.039,0.597],[2.082,0.681],[2.124,0.528],[2.167,0.624],[2.209,0.572],[2.252,0.659],[2.294,0.519],[2.337,0.594],[2.379,0.552],[2.422,0.607],[2.464,0.509],[2.507,0.578]];
const core2X=[3.762,3.937,3.843,3.981,3.804,3.896,3.959,3.781,3.868,3.922,3.816,3.991,3.755,3.887,3.949,3.832,3.908,3.774,3.971,3.857,3.795,3.929,3.879,3.998,3.821,3.943,3.766,3.901,3.848,3.976,3.788,3.914,3.863,3.954,3.809,3.892,3.837,3.986,3.777,3.933,
4.238,4.063,4.157,4.019,4.196,4.104,4.041,4.219,4.132,4.078,4.184,4.009,4.245,4.113,4.051,4.168,4.092,4.226,4.029,4.143,4.205,4.071,4.121,4.002,4.179,4.057,4.234,4.099,4.152,4.024,4.212,4.086,4.137,4.046,4.191,4.108,4.163,4.014,4.223,4.067,
4.262,4.437,4.343,4.481,4.304,4.396,4.459,4.281,4.368,4.422,4.316,4.491,4.255,4.387,4.449,4.332,4.408,4.274,4.471,4.357,4.295,4.429,4.379,4.498,4.321,4.443,4.266,4.401,4.348,4.476,4.288,4.414,4.363,4.454,4.309,4.392,4.337,4.486,4.277,4.433,
4.738,4.563,4.657,4.519,4.696,4.604,4.541,4.719,4.632,4.578,4.684,4.509,4.745,4.613,4.551,4.668,4.592,4.726,4.529,4.643,4.705,4.571,4.621,4.502,4.679,4.557,4.734,4.599,4.652,4.524,4.712,4.586,4.637,4.546,4.691,4.608,4.663,4.514,4.723,4.567,
4.762,4.937,4.843,4.981,4.804,4.896,4.959,4.781,4.868,4.922,4.816,4.991,4.755,4.887,4.949,4.832,4.908,4.774,4.971,4.857,4.795,4.929,4.879,4.998,4.821,4.943,4.766,4.901,4.848,4.976,4.788,4.914,4.863,4.954,4.809,4.892,4.837,4.986,4.777,4.933,
5.238,5.063,5.157,5.019,5.196,5.104,5.041,5.219,5.132,5.078,5.184,5.009,5.245,5.113,5.051,5.168,5.092,5.226,5.029,5.143,5.205,5.071,5.121,5.002,5.179,5.057,5.234,5.099,5.152,5.024,5.212,5.086,5.137,5.046,5.191,5.108,5.163,5.014,5.223,5.067,
5.262,5.437,5.343,5.481,5.304,5.396,5.459,5.281,5.368,5.422,5.316,5.491,5.255,5.387,5.449,5.332,5.408,5.274,5.471,5.357,5.295,5.429,5.379,5.498,5.321,5.443,5.266,5.401,5.348,5.476,5.288,5.414,5.363,5.454,5.309,5.392,5.337,5.486,5.277,5.433,
5.738,5.563,5.657,5.519,5.696,5.604,5.541,5.719,5.632,5.578,5.684,5.509,5.745,5.613,5.551,5.668,5.592,5.726,5.529,5.643,5.705,5.571,5.621,5.502,5.679,5.557,5.734,5.599,5.652,5.524,5.712,5.586,5.637,5.546,5.691,5.608,5.663,5.514,5.723,5.567,
5.762,5.937,5.843,5.981,5.804,5.896,5.959,5.781,5.868,5.922,5.816,5.991,5.755,5.887,5.949,5.832,5.908,5.774,5.971,5.857,5.795,5.929,5.879,5.998,5.821,5.943,5.766,5.901,5.848,5.976,5.788,5.914,5.863,5.954,5.809,5.892,5.837,5.986,5.777,5.933,
6.238,6.063,6.157,6.019,6.196,6.104,6.041,6.219,6.132,6.078,6.184,6.009,6.245,6.113,6.051,6.168,6.092,6.226,6.029,6.143,6.205,6.071,6.121,6.002,6.179,6.057,6.234,6.099,6.152,6.024,6.212,6.086,6.137,6.046,6.191,6.108,6.163,6.014,6.223,6.067,
6.262,6.437,6.343,6.481,6.304,6.396,6.459,6.281,6.368,6.422,6.316,6.491,6.255,6.387,6.449,6.332,6.408,6.274,6.471,6.357,6.295,6.429,6.379,6.498,6.321,6.443,6.266,6.401,6.348,6.476,6.288,6.414,6.363,6.454,6.309,6.392,6.337,6.486,6.277,6.433,
6.738,6.563,6.657,6.519,6.696,6.604,6.541,6.719,6.632,6.578,6.684,6.509,6.745,6.613,6.551,6.668,6.592,6.726,6.529,6.643,6.705,6.571,6.621,6.502,6.679,6.557,6.734,6.599,6.652,6.524,6.712,6.586,6.637,6.546,6.691,6.608,6.663,6.514,6.723,6.567,
6.762,6.937,6.843,6.981,6.804,6.896,6.959,6.781,6.868,6.922,6.816,6.991,6.755,6.887,6.949,6.832,6.908,6.774,6.971,6.857,6.795,6.929,6.879,6.998,6.821,6.943,6.766,6.901,6.848,6.976,6.788,6.914,6.863,6.954,6.809,6.892,6.837,6.986,6.777,6.933,
7.238,7.063,7.157,7.019,7.196,7.104,7.041,7.219,7.132,7.078,7.184,7.009,7.245,7.113,7.051,7.168,7.092,7.226,7.029,7.143,7.205,7.071,7.121,7.002,7.179,7.057,7.234,7.099,7.152,7.024,7.212,7.086,7.137,7.046,7.191,7.108,7.163,7.014,7.223,7.067,
7.262,7.437,7.343,7.481,7.304,7.396,7.459,7.281,7.368,7.422,7.316,7.491,7.255,7.387,7.449,7.332,7.408,7.274,7.471,7.357,7.295,7.429,7.379,7.498,7.321,7.443,7.266,7.401,7.348,7.476,7.288,7.414,7.363,7.454,7.309,7.392,7.337,7.486,7.277,7.433,
7.738,7.563,7.657,7.519,7.696,7.604,7.541,7.719,7.632,7.578,7.684,7.509,7.745,7.613,7.551,7.668,7.592,7.726,7.529,7.643,7.705,7.571,7.621,7.502,7.679,7.557,7.734,7.599,7.652,7.524,7.712,7.586,7.637,7.546,7.691,7.608,7.663,7.514,7.723,7.567];
const core2Y=[.493,.539,.447,.576,.513,.474,.557,.426,.524,.460,.592,.501,.551,.438,.533,.484,.568,.453,.496,.546,.420,.520,.467,.561,.507,.444,.583,.479,.542,.434,.529,.490,.600,.457,.516,.471,.572,.498,.554,.449,
.500,.454,.546,.417,.480,.519,.436,.567,.469,.533,.401,.492,.442,.555,.460,.509,.425,.540,.497,.447,.573,.473,.526,.432,.486,.549,.410,.514,.451,.559,.464,.503,.393,.536,.477,.522,.421,.495,.439,.544,
.461,.507,.415,.544,.481,.442,.525,.394,.492,.428,.560,.469,.519,.406,.501,.452,.536,.421,.464,.514,.388,.488,.435,.529,.475,.412,.551,.447,.510,.402,.497,.458,.568,.425,.484,.439,.540,.466,.522,.417,
.472,.426,.518,.389,.452,.491,.408,.539,.441,.505,.373,.464,.414,.527,.432,.481,.397,.512,.469,.419,.545,.445,.498,.404,.458,.521,.382,.486,.423,.531,.436,.475,.365,.508,.449,.494,.393,.467,.411,.516,
.437,.483,.391,.520,.457,.418,.501,.370,.468,.404,.536,.445,.495,.382,.477,.428,.512,.397,.440,.490,.364,.464,.411,.505,.451,.388,.527,.423,.486,.378,.473,.434,.544,.401,.460,.415,.516,.442,.498,.393,
.452,.406,.498,.369,.432,.471,.388,.519,.421,.485,.353,.444,.394,.507,.412,.461,.377,.492,.449,.399,.525,.425,.478,.384,.438,.501,.362,.466,.403,.511,.416,.455,.345,.488,.429,.474,.373,.447,.391,.496,
.422,.468,.376,.505,.442,.403,.486,.355,.453,.389,.521,.430,.480,.367,.462,.413,.497,.382,.425,.475,.349,.449,.396,.490,.436,.373,.512,.408,.471,.363,.458,.419,.529,.386,.445,.400,.501,.427,.483,.378,
.440,.394,.486,.357,.420,.459,.376,.507,.409,.473,.341,.432,.382,.495,.400,.449,.365,.480,.437,.387,.513,.413,.466,.372,.426,.489,.350,.454,.391,.499,.404,.443,.333,.476,.417,.462,.361,.435,.379,.484,
.410,.456,.364,.493,.430,.391,.474,.343,.441,.377,.509,.418,.468,.355,.450,.401,.485,.370,.413,.463,.337,.437,.384,.478,.424,.361,.500,.396,.459,.351,.446,.407,.517,.374,.433,.388,.489,.415,.471,.366,
.429,.383,.475,.346,.409,.448,.365,.496,.398,.462,.330,.421,.371,.484,.389,.438,.354,.469,.426,.376,.502,.402,.455,.361,.415,.478,.339,.443,.380,.488,.393,.432,.322,.465,.406,.451,.350,.424,.368,.473,
.401,.447,.355,.484,.421,.382,.465,.334,.432,.368,.500,.409,.459,.346,.441,.392,.476,.361,.404,.454,.328,.428,.375,.469,.415,.352,.491,.387,.450,.342,.437,.398,.508,.365,.424,.379,.480,.406,.462,.357,
.421,.375,.467,.338,.401,.440,.357,.488,.390,.454,.322,.413,.363,.476,.381,.430,.346,.461,.418,.368,.494,.394,.447,.353,.407,.470,.331,.435,.372,.480,.385,.424,.314,.457,.398,.443,.342,.416,.360,.465,
.392,.438,.346,.475,.412,.373,.456,.325,.423,.359,.491,.400,.450,.337,.432,.383,.467,.352,.395,.445,.319,.419,.366,.460,.406,.343,.482,.378,.441,.333,.428,.389,.499,.356,.415,.370,.471,.397,.453,.348,
.413,.367,.459,.330,.393,.432,.349,.480,.382,.446,.314,.405,.355,.468,.373,.422,.338,.453,.410,.360,.486,.386,.439,.345,.399,.462,.323,.427,.364,.472,.377,.416,.306,.449,.390,.435,.334,.408,.352,.457,
.387,.433,.341,.470,.407,.368,.451,.320,.418,.354,.486,.395,.445,.332,.427,.378,.462,.347,.390,.440,.314,.414,.361,.455,.401,.338,.477,.373,.436,.328,.423,.384,.494,.351,.410,.365,.466,.392,.448,.343,
.409,.363,.455,.326,.389,.428,.345,.476,.378,.442,.310,.401,.351,.464,.369,.418,.334,.449,.406,.356,.482,.382,.435,.341,.395,.458,.319,.423,.360,.468,.373,.412,.302,.445,.386,.431,.330,.404,.348,.453];
const band2X=[1.012,1.187,1.093,1.231,1.054,1.146,1.209,1.031,1.118,1.172,1.066,1.241,1.005,1.137,1.199,1.082,1.158,1.024,1.221,1.107,
1.488,1.313,1.407,1.269,1.446,1.354,1.291,1.469,1.382,1.328,1.434,1.259,1.495,1.363,1.301,1.418,1.342,1.476,1.279,1.393,
1.512,1.687,1.593,1.731,1.554,1.646,1.709,1.531,1.618,1.672,1.566,1.741,1.505,1.637,1.699,1.582,1.658,1.524,1.721,1.607,
1.988,1.813,1.907,1.769,1.946,1.854,1.791,1.969,1.882,1.828,1.934,1.759,1.995,1.863,1.801,1.918,1.842,1.976,1.779,1.893,
2.012,2.187,2.093,2.231,2.054,2.146,2.209,2.031,2.118,2.172,2.066,2.241,2.005,2.137,2.199,2.082,2.158,2.024,2.221,2.107,
2.488,2.313,2.407,2.269,2.446,2.354,2.291,2.469,2.382,2.328,2.434,2.259,2.495,2.363,2.301,2.418,2.342,2.476,2.279,2.393,
2.512,2.687,2.593,2.731,2.554,2.646,2.709,2.531,2.618,2.672,2.566,2.741,2.505,2.637,2.699,2.582,2.658,2.524,2.721,2.607,
2.988,2.813,2.907,2.769,2.946,2.854,2.791,2.969,2.882,2.828,2.934,2.759,2.995,2.863,2.801,2.918,2.842,2.976,2.779,2.893,
3.012,3.187,3.093,3.231,3.054,3.146,3.209,3.031,3.118,3.172,3.066,3.241,3.005,3.137,3.199,3.082,3.158,3.024,3.221,3.107,
3.488,3.313,3.407,3.269,3.446,3.354,3.291,3.469,3.382,3.328,3.434,3.259,3.495,3.363,3.301,3.418,3.342,3.476,3.279,3.393,
3.512,3.687,3.593,3.731,3.554,3.646,3.709,3.531,3.618,3.672,3.566,3.741,3.505,3.637,3.699,3.582,3.658,3.524,3.721,3.607];
const band2Y=[.726,.781,.670,.825,.750,.703,.802,.645,.763,.686,.844,.735,.795,.660,.774,.715,.816,.678,.729,.789,
.734,.679,.790,.635,.710,.757,.658,.815,.697,.774,.616,.725,.665,.800,.686,.745,.644,.782,.731,.671,
.691,.746,.635,.790,.715,.668,.767,.610,.728,.651,.809,.700,.760,.625,.739,.680,.781,.643,.694,.754,
.699,.644,.755,.600,.675,.722,.623,.780,.662,.739,.581,.690,.630,.765,.651,.710,.609,.747,.696,.636,
.651,.706,.595,.750,.675,.628,.727,.570,.688,.611,.769,.660,.720,.585,.699,.640,.741,.603,.654,.714,
.659,.604,.715,.560,.635,.682,.583,.740,.622,.699,.541,.650,.590,.725,.611,.670,.569,.707,.656,.596,
.611,.666,.555,.710,.635,.588,.687,.530,.648,.571,.729,.620,.680,.545,.659,.600,.701,.563,.614,.674,
.617,.562,.673,.518,.593,.640,.541,.698,.580,.657,.499,.608,.548,.683,.569,.628,.527,.665,.614,.554,
.569,.624,.513,.668,.593,.546,.645,.488,.606,.529,.687,.578,.638,.503,.617,.558,.659,.521,.572,.632,
.577,.522,.633,.478,.553,.600,.501,.658,.540,.617,.459,.568,.508,.643,.529,.588,.487,.625,.574,.514,
.529,.584,.473,.628,.553,.506,.605,.448,.566,.489,.647,.538,.598,.463,.577,.518,.619,.481,.532,.592];
const shoulderX=[4.031,4.447,4.219,4.362,4.088,4.291,4.163,4.408,4.012,4.254,4.135,4.479,4.327,4.071,4.198,4.386,4.113,4.432,4.276,4.049,4.344,4.181,4.463,4.238,4.097,4.311,4.419,4.152,4.372,4.024,
4.969,4.553,4.781,4.638,4.912,4.709,4.837,4.592,4.988,4.746,4.865,4.521,4.673,4.929,4.802,4.614,4.887,4.568,4.724,4.951,4.656,4.819,4.537,4.762,4.903,4.689,4.581,4.848,4.628,4.976,
5.031,5.447,5.219,5.362,5.088,5.291,5.163,5.408,5.012,5.254,5.135,5.479,5.327,5.071,5.198,5.386,5.113,5.432,5.276,5.049,5.344,5.181,5.463,5.238,5.097,5.311,5.419,5.152,5.372,5.024,
5.969,5.553,5.781,5.638,5.912,5.709,5.837,5.592,5.988,5.746,5.865,5.521,5.673,5.929,5.802,5.614,5.887,5.568,5.724,5.951,5.656,5.819,5.537,5.762,5.903,5.689,5.581,5.848,5.628,5.976,
6.031,6.447,6.219,6.362,6.088,6.291,6.163,6.408,6.012,6.254,6.135,6.479,6.327,6.071,6.198,6.386,6.113,6.432,6.276,6.049,6.344,6.181,6.463,6.238,6.097,6.311,6.419,6.152,6.372,6.024,
6.969,6.553,6.781,6.638,6.912,6.709,6.837,6.592,6.988,6.746,6.865,6.521,6.673,6.929,6.802,6.614,6.887,6.568,6.724,6.951,6.656,6.819,6.537,6.762,6.903,6.689,6.581,6.848,6.628,6.976,
7.031,7.447,7.219,7.362,7.088,7.291,7.163,7.408,7.012,7.254,7.135,7.479,7.327,7.071,7.198,7.386,7.113,7.432,7.276,7.049,7.344,7.181,7.463,7.238,7.097,7.311,7.419,7.152,7.372,7.024,
7.969,7.553,7.781,7.638,7.912,7.709,7.837,7.592,7.988,7.746,7.865,7.521,7.673,7.929,7.802,7.614,7.887,7.568,7.724,7.951,7.656,7.819,7.537,7.762,7.903,7.689,7.581,7.848,7.628,7.976,
8.031,8.447,8.219,8.362,8.088,8.291,8.163,8.408,8.012,8.254,8.135,8.479,8.327,8.071,8.198,8.386,8.113,8.432,8.276,8.049,
7.62,7.71,7.83,7.94,8.02,8.11,8.19,8.27,8.33,8.41,8.47,8.55,8.6,7.57,7.78,7.99,8.15,8.37,8.52,8.66];
const shoulderY=[.639,.564,.681,.599,.548,.654,.586,.689,.610,.558,.666,.630,.574,.697,.593,.647,.554,.618,.673,.582,.633,.543,.658,.606,.686,.569,.642,.596,.678,.623,
.609,.534,.651,.569,.518,.624,.556,.659,.580,.528,.636,.600,.544,.667,.563,.617,.524,.588,.643,.552,.603,.513,.628,.576,.656,.539,.612,.566,.648,.593,
.589,.514,.631,.549,.498,.604,.536,.639,.560,.508,.616,.580,.524,.647,.543,.597,.504,.568,.623,.532,.583,.493,.608,.556,.636,.519,.592,.546,.628,.573,
.573,.503,.612,.536,.488,.587,.524,.620,.546,.497,.599,.564,.512,.627,.530,.581,.494,.554,.605,.519,.567,.483,.591,.542,.617,.507,.576,.533,.609,.558,
.557,.491,.593,.522,.477,.569,.511,.600,.532,.485,.581,.548,.499,.607,.516,.564,.483,.539,.586,.506,.551,.473,.574,.527,.597,.495,.560,.519,.590,.543,
.541,.480,.574,.508,.467,.552,.498,.581,.517,.474,.563,.533,.487,.587,.503,.547,.472,.524,.568,.494,.535,.463,.556,.513,.578,.483,.543,.506,.572,.528,
.524,.468,.556,.494,.456,.535,.485,.562,.503,.463,.545,.517,.475,.568,.490,.530,.461,.509,.550,.481,.520,.452,.539,.499,.559,.472,.527,.492,.553,.512,
.508,.457,.537,.481,.446,.518,.472,.542,.488,.452,.527,.502,.463,.548,.476,.514,.450,.494,.531,.469,.504,.442,.521,.485,.540,.460,.510,.479,.535,.497,
.486,.444,.509,.463,.435,.494,.456,.514,.470,.440,.501,.480,.449,.518,.460,.490,.438,.474,.505,.453,
.312,.296,.328,.289,.305,.334,.291,.318,.284,.309,.327,.293,.315,.341,.351,.322,.357,.345,.336,.352];

const L=123,R=1137,T=122,B=746;
const svg=d3.select("#c");
const x=d3.scaleLinear().domain([-1.2937,13.7844]).range([L,R]);
const y=d3.scaleLinear().domain([0.1889,1.7930]).range([B,T]);

const zip=(xs,ys)=>xs.map((v,i)=>[v,ys[i]]);
const allPts=[].concat(cloudLeft,cloudB,cloudC,cloudD,cloudE,coreDense,curveBand,
  zip(core2X,core2Y),zip(band2X,band2Y),zip(shoulderX,shoulderY),
  midUpper,sparseMid,rightTail,sparseUpper);
svg.append("defs").append("clipPath").attr("id","pc").append("rect").attr("x",L).attr("y",T).attr("width",R-L).attr("height",B-T);
const gp=svg.append("g").attr("clip-path","url(#pc)");
gp.selectAll("circle.n").data(allPts).join("circle").attr("class","n")
  .attr("cx",d=>x(d[0])).attr("cy",d=>y(d[1])).attr("r",1.6).attr("fill","#000");
gp.selectAll("circle.o").data(outliers).join("circle").attr("class","o")
  .attr("cx",d=>x(d[0])).attr("cy",d=>y(d[1])).attr("r",1.6).attr("fill","#FF0000");

const line=d3.line().x(d=>x(d[0])).y(d=>y(d[1])).curve(d3.curveMonotoneX);
gp.append("path").datum(zip(trendX,trendY)).attr("d",line)
  .attr("fill","none").attr("stroke","#0000FF").attr("stroke-width",1.6);

svg.append("rect").attr("x",L).attr("y",T).attr("width",R-L).attr("height",B-T)
  .attr("fill","none").attr("stroke","#000").attr("stroke-width",1.5);

const xa=svg.append("g").attr("transform",`translate(0,${B})`)
  .call(d3.axisBottom(x).tickValues(xTicks).tickSize(15).tickPadding(22).tickFormat(d3.format("d")));
xa.select(".domain").attr("d",`M${x(0)},0H${x(12)}`).attr("stroke","#000").attr("stroke-width",1.5);
xa.selectAll(".tick line").attr("stroke","#000").attr("stroke-width",1.5);
xa.selectAll(".tick text").attr("font-size",23).attr("dy",null).attr("y",40).attr("font-family",null);

const ya=svg.append("g").attr("transform",`translate(${L},0)`)
  .call(d3.axisLeft(y).tickValues(yTicks).tickSize(15).tickFormat(d3.format(".1f")));
ya.select(".domain").attr("d",`M0,${y(0.5)}V${y(1.5)}`).attr("stroke","#000").attr("stroke-width",1.5);
ya.selectAll(".tick line").attr("stroke","#000").attr("stroke-width",1.5);
ya.selectAll(".tick text").attr("font-size",23).attr("font-family",null)
  .attr("x",null).attr("dy",null).attr("text-anchor","middle")
  .attr("transform","translate(-40,0) rotate(-90)");

svg.append("text").attr("x",(L+R)/2).attr("y",860).attr("text-anchor","middle").attr("font-size",24.5).text(xTitle);
svg.append("text").attr("transform",`translate(29,${(T+B)/2}) rotate(-90)`).attr("text-anchor","middle").attr("font-size",24.5).text(yTitle);

const lg=svg.append("g");
lg.append("rect").attr("x",999).attr("y",T).attr("width",R-999).attr("height",90)
  .attr("fill","#fff").attr("stroke","#000").attr("stroke-width",1.5);
legendLabels.forEach((t,i)=>{
  lg.append("circle").attr("cx",1022).attr("cy",152.5+i*30.5).attr("r",5).attr("fill",legendColors[i]);
  lg.append("text").attr("x",1045).attr("y",161.5+i*30.5).attr("font-size",24.5).text(t);
});
</script>
</body></html>
